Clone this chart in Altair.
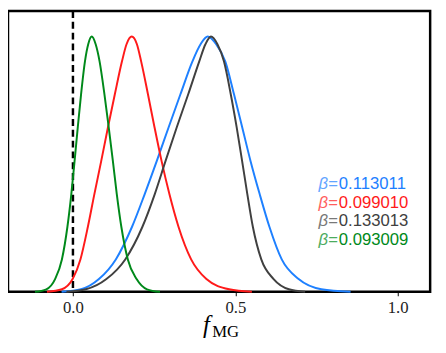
import altair as alt
import pandas as pd

# Curves (x = f_MG, y = normalised density)
blue_x = [-0.035, 0.025, 0.080, 0.132, 0.182, 0.221, 0.258, 0.295, 0.331, 0.368, 0.393, 0.415,
          0.441, 0.469, 0.496, 0.521, 0.547, 0.575, 0.605, 0.643, 0.695, 0.765, 0.855]
blue_y = [0.0, 0.01, 0.05, 0.127, 0.255, 0.383, 0.512, 0.646, 0.774, 0.903, 0.97, 1.0,
          0.97, 0.903, 0.774, 0.646, 0.512, 0.383, 0.255, 0.127, 0.05, 0.01, 0.0]

red_x = [-0.08, -0.034, -0.001, 0.023, 0.046, 0.066, 0.087, 0.108, 0.129, 0.151, 0.165, 0.181,
         0.197, 0.210, 0.231, 0.251, 0.273, 0.297, 0.325, 0.364, 0.411, 0.481, 0.551]
red_y = [0.0, 0.01, 0.05, 0.127, 0.255, 0.383, 0.512, 0.646, 0.774, 0.903, 0.97, 1.0,
         0.97, 0.903, 0.774, 0.646, 0.512, 0.383, 0.255, 0.127, 0.05, 0.01, 0.0]

gray_x = [-0.02, 0.04, 0.103, 0.161, 0.214, 0.252, 0.285, 0.32, 0.355, 0.389, 0.408, 0.425,
          0.445, 0.465, 0.486, 0.504, 0.521, 0.537, 0.554, 0.580, 0.618, 0.665, 0.715]
gray_y = [0.0, 0.01, 0.05, 0.127, 0.255, 0.383, 0.512, 0.646, 0.774, 0.903, 0.97, 1.0,
          0.97, 0.903, 0.774, 0.646, 0.512, 0.383, 0.255, 0.127, 0.05, 0.01, 0.0]

green_x = [-0.117, -0.082, -0.055, -0.034, -0.017, -0.005, 0.005, 0.015, 0.025, 0.037, 0.047, 0.058,
           0.070, 0.082, 0.097, 0.110, 0.123, 0.135, 0.149, 0.169, 0.196, 0.228, 0.268]
green_y = [0.0, 0.01, 0.05, 0.127, 0.255, 0.383, 0.512, 0.646, 0.774, 0.903, 0.97, 1.0,
           0.97, 0.903, 0.774, 0.646, 0.512, 0.383, 0.255, 0.127, 0.05, 0.01, 0.0]

series_names = ["blue", "red", "gray", "green"]
series_colors = ["#1e80ff", "#ff1a1a", "#404040", "#00891a"]
beta_labels = ["0.113011", "0.099010", "0.133013", "0.093009"]
x_ticks = [0.0, 0.5, 1.0]

curves = {
    "blue": (blue_x, blue_y),
    "red": (red_x, red_y),
    "gray": (gray_x, gray_y),
    "green": (green_x, green_y),
}

W, H = 430, 286
xscale = alt.Scale(domain=[-0.2, 1.1], nice=False, zero=False)
yscale = alt.Scale(domain=[0, 1.1], nice=False, zero=False)

layers = []

# dashed vertical line at 0
layers.append(
    alt.Chart(pd.DataFrame({"x": [0.0]})).mark_rule(
        color="black", strokeWidth=2.5, strokeDash=[7, 4]
    ).encode(x=alt.X("x:Q", scale=xscale))
)

for name, col in zip(series_names, series_colors):
    xs, ys = curves[name]
    df = pd.DataFrame({"x": xs, "y": ys})
    layers.append(
        alt.Chart(df).mark_line(color=col, strokeWidth=2, interpolate="monotone").encode(
            x=alt.X("x:Q", scale=xscale,
                    axis=alt.Axis(values=x_ticks, format=".1f", title=None, grid=False,
                                  domain=False, ticks=True, tickSize=4, tickColor="black",
                                  tickWidth=1, labelFont="Liberation Serif", labelFontSize=17,
                                  labelColor="#222222", labelPadding=4)),
            y=alt.Y("y:Q", scale=yscale, axis=None),
        )
    )

# legend-like labels
label_y = [176, 195.2, 214.4, 233.6]
for lab, col, yy in zip(beta_labels, series_colors, label_y):
    layers.append(
        alt.Chart(pd.DataFrame({"t": [lab]})).mark_text(
            align="left", baseline="middle", font="Liberation Sans", fontSize=17, color=col
        ).encode(text="t:N", x=alt.value(337), y=alt.value(yy))
    )
    layers.append(
        alt.Chart(pd.DataFrame({"t": ["β="]})).mark_text(
            align="right", baseline="middle", font="Liberation Sans", fontSize=17, color=col,
            fontStyle="italic", opacity=0.7
        ).encode(text="t:N", x=alt.value(336), y=alt.value(yy))
    )

# axis title f_MG
layers.append(
    alt.Chart(pd.DataFrame({"t": ["f"]})).mark_text(
        align="center", baseline="alphabetic", font="Liberation Serif", fontStyle="italic",
        fontSize=25, color="black"
    ).encode(text="t:N", x=alt.value(202), y=alt.value(328))
)
layers.append(
    alt.Chart(pd.DataFrame({"t": ["MG"]})).mark_text(
        align="left", baseline="alphabetic", font="Liberation Serif", fontSize=17, color="black"
    ).encode(text="t:N", x=alt.value(208), y=alt.value(332))
)

chart = alt.layer(*layers).properties(
    width=W, height=H, autosize=alt.AutoSizeParams(type="none"),
    padding={"left": 0, "top": 0, "right": 8, "bottom": 50}
).configure_view(stroke="black", strokeWidth=2.5)

chart.save("out.html", embed_options={"renderer": "svg", "actions": False})
